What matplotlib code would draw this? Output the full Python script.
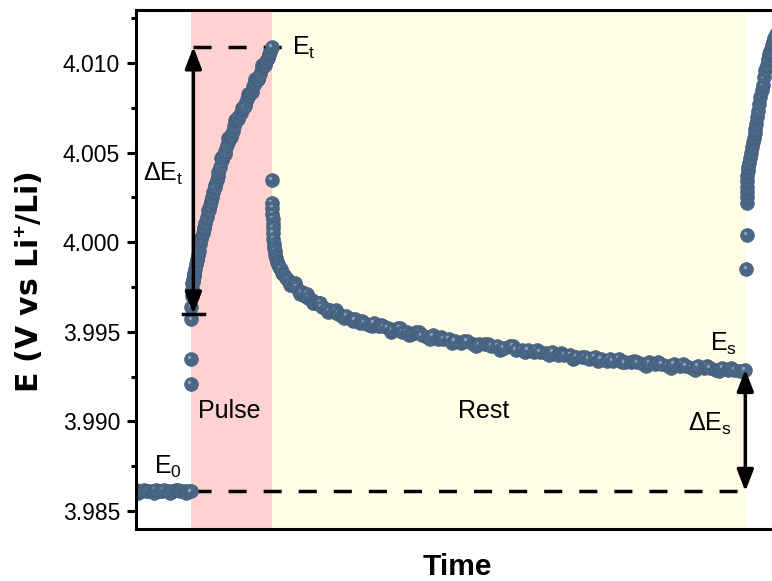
import matplotlib.pyplot as plt
from matplotlib.transforms import offset_copy
from matplotlib.ticker import MultipleLocator, FormatStrFormatter

plt.rcParams['font.family'] = ['Liberation Sans', 'DejaVu Sans']
plt.rcParams['mathtext.fontset'] = 'custom'
plt.rcParams['mathtext.rm'] = 'Liberation Sans'
plt.rcParams['mathtext.it'] = 'Liberation Sans'
plt.rcParams['mathtext.bf'] = 'Liberation Sans:bold'

# time in s, potential in V vs Li+/Li
base_t = [-410, -395, -380, -350, -335, -320, -290, -275, -260, -230, -215, -200, -170,
          -155, -140, -110, -95, -80, -50, -40, -25, 0]
base_E = [3.9862, 3.9860, 3.9861, 3.9862, 3.9861, 3.9861, 3.9861, 3.9860, 3.9862, 3.9861,
          3.9861, 3.9862, 3.9861, 3.9860, 3.9861, 3.9862, 3.9862, 3.9861, 3.9861, 3.9860,
          3.9861, 3.9861]

pulse_t = [0, 0, 2, 4, 6, 8, 11, 14, 17, 20, 21, 25, 30, 36, 42, 45, 49, 57, 66, 70, 76,
           86, 96, 100, 107, 118, 125, 130, 142, 150, 154, 166, 175, 178, 190, 200, 202,
           214, 225, 227, 240, 250, 253, 266, 275, 280, 294, 300, 308, 322, 325, 337, 350,
           352, 367, 375, 382, 397, 400, 413, 425, 429, 445, 450, 461, 475, 477, 493, 500,
           509, 525, 525, 541, 550, 557, 573, 575, 589, 598]
pulse_E = [3.9921, 3.9935, 3.9957, 3.9964, 3.9970, 3.9974, 3.9977, 3.9978, 3.9979, 3.9982,
           3.9981, 3.9983, 3.9985, 3.9988, 3.9990, 3.9990, 3.9993, 3.9995, 3.9999, 4.0002,
           4.0002, 4.0005, 4.0008, 4.0008, 4.0011, 4.0014, 4.0018, 4.0018, 4.0021, 4.0023,
           4.0025, 4.0028, 4.0032, 4.0031, 4.0035, 4.0037, 4.0039, 4.0042, 4.0047, 4.0046,
           4.0048, 4.0049, 4.0051, 4.0054, 4.0058, 4.0057, 4.0059, 4.0060, 4.0062, 4.0065,
           4.0068, 4.0068, 4.0069, 4.0070, 4.0072, 4.0075, 4.0075, 4.0077, 4.0076, 4.0080,
           4.0083, 4.0082, 4.0084, 4.0084, 4.0087, 4.0091, 4.0089, 4.0091, 4.0091, 4.0094,
           4.0097, 4.0099, 4.0099, 4.0099, 4.0101, 4.0103, 4.0105, 4.0106, 4.0109]

rest_t = [600, 601, 602, 603, 604, 605, 606, 608, 610, 612, 615, 619, 624, 630, 637, 645,
          655, 666, 678, 692, 706, 721, 740, 760, 780, 800, 820, 845, 870, 895, 920, 945,
          970, 1000, 1030, 1060, 1090, 1120, 1150, 1185, 1215, 1250, 1285, 1320, 1355, 1390,
          1425, 1460, 1495, 1530, 1565, 1600, 1635, 1670, 1710, 1750, 1790, 1830, 1870, 1910,
          1955, 2000, 2045, 2090, 2135, 2180, 2225, 2270, 2315, 2360, 2405, 2450, 2495, 2540,
          2585, 2630, 2675, 2720, 2765, 2810, 2855, 2900, 2945, 2990, 3035, 3080, 3125, 3170,
          3215, 3260, 3305, 3350, 3395, 3440, 3485, 3530, 3575, 3620, 3665, 3710, 3755, 3800,
          3845, 3890, 3935, 3980, 4025, 4070, 4104]
rest_E = [4.0035, 4.0022, 4.0019, 4.0016, 4.0013, 4.0010, 4.0008, 4.0005, 4.0002, 3.9999,
          3.9997, 3.9995, 3.9993, 3.9991, 3.9989, 3.9988, 3.9986, 3.9985, 3.9983, 3.9982,
          3.9980, 3.9979, 3.9977, 3.9976, 3.9975, 3.9973, 3.9972, 3.9970, 3.9969, 3.9968,
          3.9966, 3.9966, 3.9964, 3.9963, 3.9962, 3.9961, 3.9960, 3.9959, 3.9959, 3.9957,
          3.9957, 3.9955, 3.9955, 3.9954, 3.9955, 3.9953, 3.9953, 3.9952, 3.9951, 3.9952,
          3.9950, 3.9950, 3.9949, 3.9950, 3.9948, 3.9947, 3.9948, 3.9946, 3.9946, 3.9946,
          3.9945, 3.9944, 3.9945, 3.9943, 3.9943, 3.9943, 3.9942, 3.9942, 3.9941, 3.9942,
          3.9940, 3.9940, 3.9940, 3.9939, 3.9939, 3.9938, 3.9939, 3.9937, 3.9937, 3.9937,
          3.9936, 3.9936, 3.9935, 3.9936, 3.9935, 3.9934, 3.9934, 3.9935, 3.9933, 3.9933,
          3.9933, 3.9932, 3.9933, 3.9932, 3.9932, 3.9931, 3.9932, 3.9931, 3.9931, 3.9930,
          3.9931, 3.9930, 3.9930, 3.9929, 3.9930, 3.9929, 3.9929, 3.9928, 3.9929]

# noisier samples in between (upper and lower edges of the band)
rest2_t = [730, 770, 810, 857, 907, 957, 1015, 1075, 1135, 1200, 1268, 1338, 1408, 1478,
           1548, 1618, 1690, 1770, 1850, 1932, 2022, 2112, 2202, 2292, 2382, 2472, 2562,
           2652, 2742, 2832, 2922, 3012, 3102, 3192, 3282, 3372, 3462, 3552, 3642, 3732,
           3822, 3912, 4002, 4088]
rest2_E = [3.9976, 3.9977, 3.9971, 3.9971, 3.9966, 3.9966, 3.9961, 3.9962, 3.9958, 3.9956,
           3.9956, 3.9953, 3.9954, 3.9950, 3.9952, 3.9948, 3.9950, 3.9946, 3.9947, 3.9944,
           3.9945, 3.9942, 3.9943, 3.9940, 3.9942, 3.9939, 3.9940, 3.9937, 3.9938, 3.9935,
           3.9936, 3.9934, 3.9935, 3.9933, 3.9934, 3.9931, 3.9933, 3.9930, 3.9932, 3.9929,
           3.9931, 3.9928, 3.9930, 3.9928]

next_t = [4114, 4115, 4116, 4117, 4118, 4119, 4120, 4122, 4125, 4129, 4134, 4140, 4147,
          4154, 4161, 4168, 4174, 4180, 4187, 4194, 4202, 4210, 4217, 4227, 4236, 4245,
          4254, 4263, 4272, 4282, 4291, 4300, 4310, 4320, 4330]
next_E = [3.9985, 4.0004, 4.0022, 4.0025, 4.0028, 4.0031, 4.0034, 4.0037, 4.0040, 4.0042,
          4.0044, 4.0047, 4.0050, 4.0053, 4.0056, 4.0058, 4.0061, 4.0063, 4.0066, 4.0070,
          4.0073, 4.0077, 4.0081, 4.0085, 4.0088, 4.0092, 4.0096, 4.0099, 4.0102, 4.0105,
          4.0107, 4.0110, 4.0112, 4.0114, 4.0116]

pulse_end = 600
rest_end = 4110
E0, Et, Es = 3.9861, 4.0109, 3.9929
E_bottom = 3.9960

W, H = 772, 581
fig = plt.figure(figsize=(W / 100, H / 100), dpi=100)
ax = fig.add_axes([136 / W, 52 / H, 642 / W, 519 / H])

ax.axvspan(0, pulse_end, color='#ffd1d1', lw=0, zorder=0)
ax.axvspan(pulse_end, rest_end, color='#fffde6', lw=0, zorder=0)

dash = dict(color='k', lw=2.5, dashes=(5.2, 4.9), zorder=1.5)
ax.plot([18, 674], [Et, Et], **dash)
ax.plot([15, rest_end - 4], [E0, E0], **dash)

# ball-like markers: each point gets its own highlight, later points cover earlier ones
hl = offset_copy(ax.transData, fig=fig, x=-1.6, y=1.8, units='dots')
pts = list(zip(base_t + pulse_t, base_E + pulse_E))
pts += sorted(zip(rest_t + rest2_t, rest_E + rest2_E))
pts += list(zip(next_t, next_E))
z = 2.0
for t, E in pts:
    ax.plot(t, E, 'o', ms=10, mfc='#4a6886', mec='#3e5875', mew=0.4, zorder=z)
    ax.plot(t, E, 'o', ms=2.4, mfc='#d3dde8', mew=0, alpha=0.5, zorder=z + 0.0005,
            transform=hl)
    z += 0.001

arrow = dict(arrowstyle='<|-|>,head_length=0.65,head_width=0.25', mutation_scale=20,
             lw=2.5, color='k', shrinkA=0, shrinkB=0)
ax.annotate('', xy=(18, Et), xytext=(18, E_bottom), arrowprops=arrow, zorder=4)
ax.plot([-59, 96], [E_bottom, E_bottom], color='k', lw=2.5, zorder=4)
ax.annotate('', xy=(4106, Es), xytext=(4106, E0), arrowprops=arrow, zorder=4)

ax.set_xlim(-407, 4348)
ax.set_ylim(3.9840, 4.01296)
ax.set_xticks([])
ax.yaxis.set_major_locator(MultipleLocator(0.005))
ax.yaxis.set_minor_locator(MultipleLocator(0.0025))
ax.yaxis.set_major_formatter(FormatStrFormatter('%.3f'))
ax.tick_params(axis='y', which='major', length=6.5, width=2.2, labelsize=16.5, pad=5)
ax.tick_params(axis='y', which='minor', length=3.6, width=2.2)
for s in ax.spines.values():
    s.set_linewidth(2.2)


def px(x, y):
    return x / W, 1 - y / H


fs = 18
fig.text(*px(292, 55), 'E$_{t}$', fontsize=fs, va='baseline')
fig.text(*px(143, 181), 'ΔE$_{t}$', fontsize=fs, va='baseline')
fig.text(*px(154, 474), 'E$_{0}$', fontsize=fs, va='baseline')
fig.text(*px(198, 418), 'Pulse', fontsize=fs, va='baseline')
fig.text(*px(458, 418), 'Rest', fontsize=fs, va='baseline')
fig.text(*px(710, 351), 'E$_{s}$', fontsize=fs, va='baseline')
fig.text(*px(688, 431), 'ΔE$_{s}$', fontsize=fs, va='baseline')

fig.text(*px(29, 282), 'E (V vs Li$^{\\mathbf{+}}$/Li)', fontsize=21.5, fontweight='bold',
         family=['DejaVu Sans'], rotation=90, ha='center', va='center')
fig.text(*px(457, 575), 'Time', fontsize=21.5, fontweight='bold', ha='center', va='baseline')

fig.savefig('out.png', dpi=100)
